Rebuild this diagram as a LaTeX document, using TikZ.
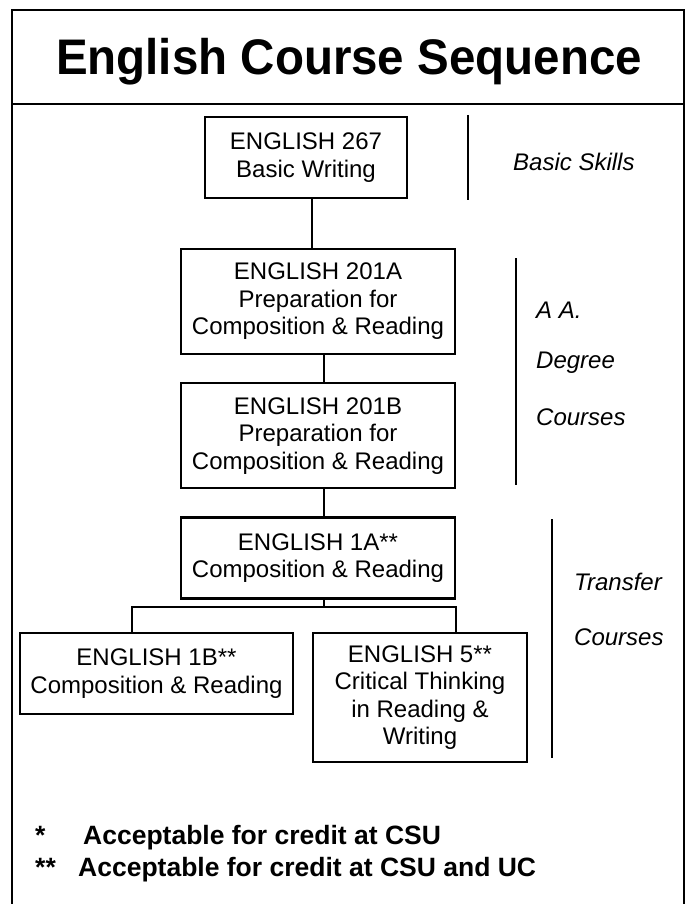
\documentclass[tikz,border=0pt]{standalone}
\usepackage{fontspec}
\setmainfont{Liberation Sans}
\usetikzlibrary{positioning}

\begin{document}
\begin{tikzpicture}[
    x=1pt, y=-1pt,
    course/.style={draw, line width=2.2pt, align=center, inner sep=0pt, font=\fontsize{24}{27.5}\selectfont},
    link/.style={line width=1.8pt},
    span/.style={line width=1.6pt},
    level/.style={anchor=base west, inner sep=0pt, font=\fontsize{24}{28}\selectfont\itshape},
    note/.style={anchor=base west, inner sep=0pt, font=\fontsize{26.5}{30}\selectfont\bfseries},
    node distance=27pt
  ]
    \useasboundingbox (0,0) rectangle (692,904);
    \draw[line width=2.6pt] (12,10) rectangle (684,915);
    \draw[line width=2.6pt] (12,104) -- (684,104);
    \node[anchor=base, inner sep=0pt, xscale=0.95, font=\fontsize{50}{56}\selectfont\bfseries] (title) at (349,75) {English Course Sequence};

    \node[course, minimum width=202pt, minimum height=81pt] (e267) at (306,157.5) {ENGLISH 267\\Basic Writing};
    \node[course, minimum width=274pt, minimum height=105pt] (e201a) at (318,301.5) {ENGLISH 201A\\Preparation for\\Composition \& Reading};
    \node[course, minimum width=274pt, minimum height=105pt, below=of e201a] (e201b) {ENGLISH 201B\\Preparation for\\Composition \& Reading};
    \node[course, minimum width=274pt, minimum height=81pt, below=of e201b] (e1a) {ENGLISH 1A**\\Composition \& Reading};
    \node[course, minimum width=273pt, minimum height=81pt] (e1b) at (156.5,673.5) {ENGLISH 1B**\\Composition \& Reading};
    \node[course, minimum width=214pt, minimum height=129pt] (e5) at (420,697.5) {ENGLISH 5**\\Critical Thinking\\in Reading \&\\Writing};

    \coordinate (forkL) at (132,607);
    \coordinate (forkR) at (456,607);
    \draw[link] ([xshift=6pt]e267.south) -- ([xshift=-6pt]e201a.north);
    \draw[link] ([xshift=6pt]e201a.south) -- ([xshift=6pt]e201b.north);
    \draw[link] ([xshift=6pt]e201b.south) -- ([xshift=6pt]e1a.north);
    \draw[link] ([xshift=6pt]e1a.south) -- ([xshift=6pt]e1a.south |- forkL);
    \draw[link] (forkL |- e1b.north) -- (forkL) -- (forkR) -- (forkR |- e5.north);

    \draw[span] (468,115) -- (468,200);
    \draw[span] (516,258) -- (516,485);
    \draw[span] (552,519) -- (552,758);
    \node[level] (basic) at (513,170.5) {Basic Skills};
    \node[level] (aa) at (536,318.5) {A A.};
    \node[level] (degree) at (536,368.5) {Degree};
    \node[level] (aacourses) at (536,425.5) {Courses};
    \node[level] (transfer) at (574,590.5) {Transfer};
    \node[level] (trcourses) at (574,645.5) {Courses};

    \node[note] (star1) at (35,844.5) {*};
    \node[note] (csu) at (83,844.5) {Acceptable for credit at CSU};
    \node[note] (star2) at (35,876.5) {**};
    \node[note] (csuuc) at (78,876.5) {Acceptable for credit at CSU and UC};
  \end{tikzpicture}
\end{document}
